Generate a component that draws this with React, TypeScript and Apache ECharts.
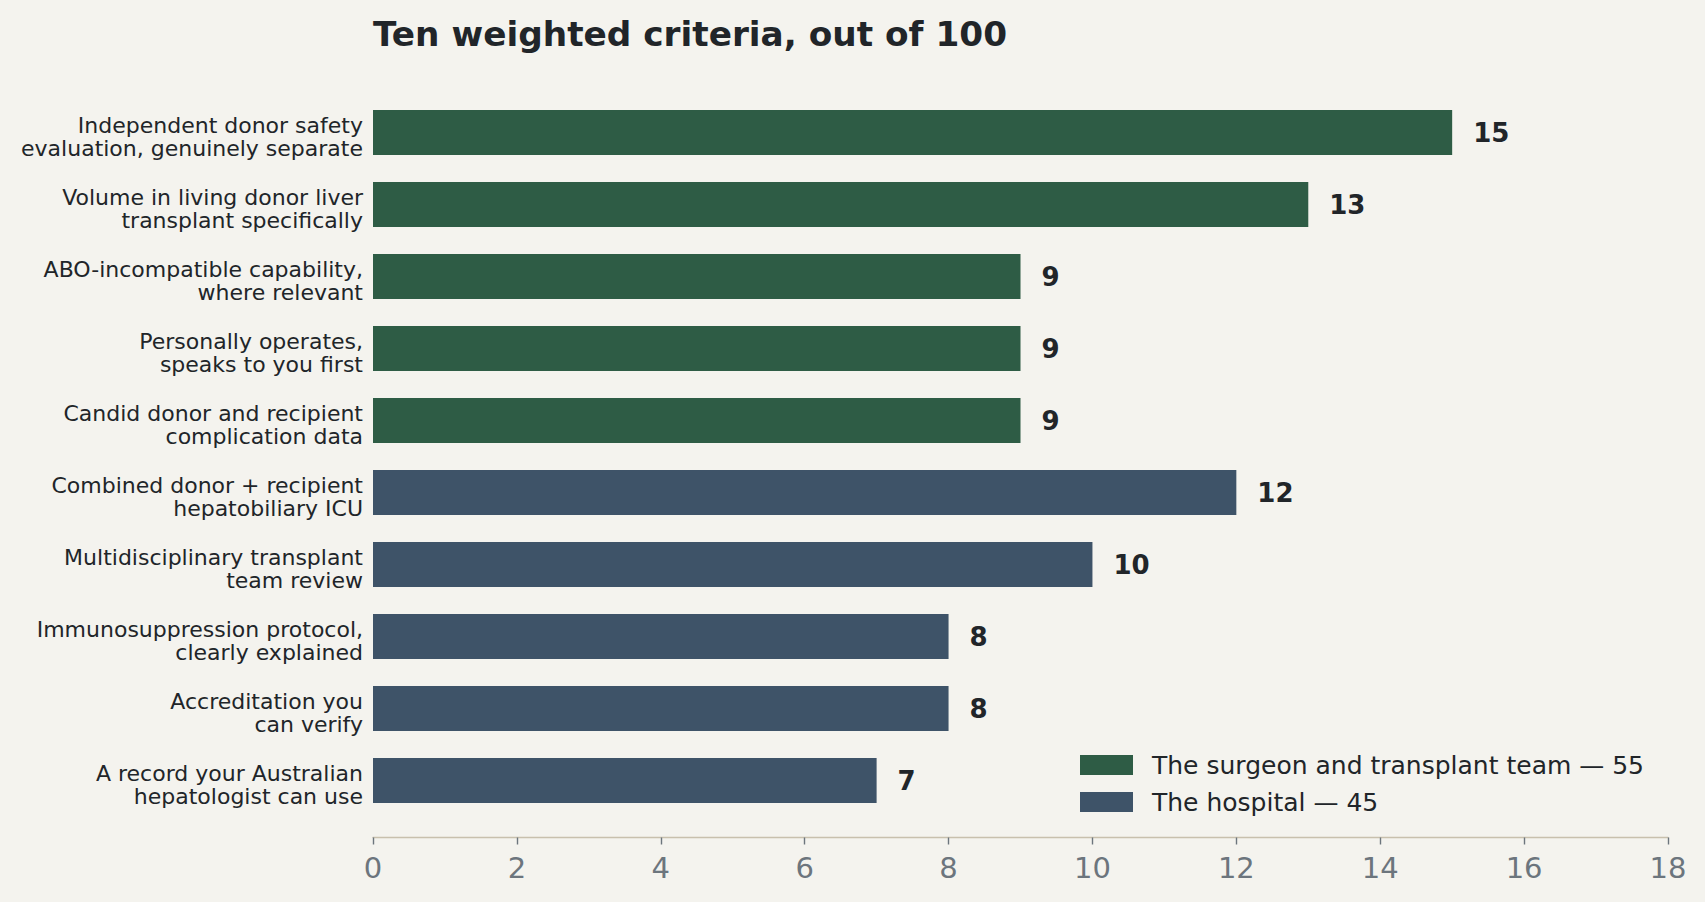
import React, { useEffect, useRef } from "react";
import * as echarts from "echarts";

const categories = [
  "Independent donor safety\nevaluation, genuinely separate",
  "Volume in living donor liver\ntransplant specifically",
  "ABO-incompatible capability,\nwhere relevant",
  "Personally operates,\nspeaks to you first",
  "Candid donor and recipient\ncomplication data",
  "Combined donor + recipient\nhepatobiliary ICU",
  "Multidisciplinary transplant\nteam review",
  "Immunosuppression protocol,\nclearly explained",
  "Accreditation you\ncan verify",
  "A record your Australian\nhepatologist can use",
];
const teamValues = [15, 13, 9, 9, 9, null, null, null, null, null];
const hospitalValues = [null, null, null, null, null, 12, 10, 8, 8, 7];
const seriesNames = ["The surgeon and transplant team — 55", "The hospital — 45"];
const xTicks = { min: 0, max: 18, interval: 2 };
const titleText = "Ten weighted criteria, out of 100";

const FONT = "DejaVu Sans";
const TEXT = "#212529";
const BG = "#f4f3ee";

export default function App() {
  const ref = useRef<HTMLDivElement>(null);
  useEffect(() => {
    document.body.style.margin = "0";
    document.body.style.background = BG;
    const chart = echarts.init(ref.current!, null, { renderer: "svg" });
    const barLabel = {
      show: true,
      position: "right",
      distance: 21,
      fontFamily: FONT,
      fontSize: 26,
      fontWeight: "bold",
      color: TEXT,
    };
    chart.setOption({
      animation: false,
      backgroundColor: BG,
      textStyle: { fontFamily: FONT },
      title: {
        text: titleText,
        left: 373,
        top: 17,
        padding: 0,
        textStyle: { fontFamily: FONT, fontSize: 34.3, fontWeight: "bold", color: TEXT },
      },
      legend: {
        orient: "vertical",
        left: 1080,
        top: 752.5,
        padding: 0,
        itemWidth: 53,
        itemHeight: 20,
        itemGap: 12,
        icon: "rect",
        selectedMode: false,
        textStyle: {
          fontFamily: FONT,
          fontSize: 25,
          color: TEXT,
          padding: [0, 0, 0, 14],
        },
        data: seriesNames,
      },
      grid: { left: 373, right: 37, top: 96.5, height: 720, containLabel: false },
      xAxis: {
        type: "value",
        min: xTicks.min,
        max: xTicks.max,
        interval: xTicks.interval,
        offset: 21,
        splitLine: { show: false },
        axisLine: { show: true, lineStyle: { color: "#c8c0ad", width: 1.4 } },
        axisTick: { show: true, length: 7, lineStyle: { color: "#6c757d", width: 1.4 } },
        axisLabel: { fontFamily: FONT, fontSize: 29, color: "#6c757d", margin: 16 },
      },
      yAxis: {
        type: "category",
        inverse: true,
        data: categories,
        axisLine: { show: false },
        axisTick: { show: false },
        splitLine: { show: false },
        axisLabel: {
          align: "right",
          margin: 10,
          formatter: (v: string) =>
            "{s| }\n" + v.split("\n").map((l) => `{a|${l}}`).join("\n"),
          rich: {
            s: { fontSize: 1, lineHeight: 8.6, fontFamily: FONT },
            a: {
              fontFamily: FONT,
              fontSize: 22,
              lineHeight: 22.4,
              color: TEXT,
              align: "right",
            },
          },
        },
      },
      series: [
        {
          name: seriesNames[0],
          type: "bar",
          stack: "all",
          data: teamValues.map((v) => (v === null ? "-" : v)),
          barCategoryGap: "37.5%",
          itemStyle: { color: "#2e5c45" },
          label: barLabel,
        },
        {
          name: seriesNames[1],
          type: "bar",
          stack: "all",
          data: hospitalValues.map((v) => (v === null ? "-" : v)),
          barCategoryGap: "37.5%",
          itemStyle: { color: "#3e5368" },
          label: barLabel,
        },
      ],
    });
    return () => chart.dispose();
  }, []);
  return <div ref={ref} style={{ width: 1705, height: 902 }} />;
}
